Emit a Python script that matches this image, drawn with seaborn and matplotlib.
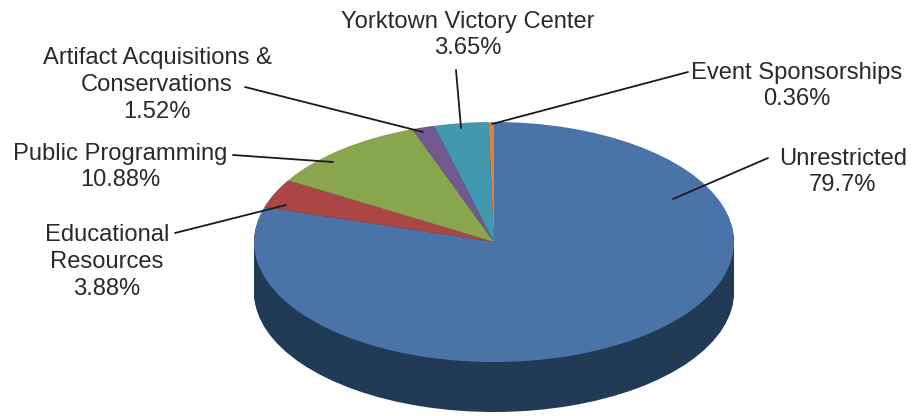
#!/usr/bin/env python3

import matplotlib
matplotlib.use("Agg")
import matplotlib.pyplot as plt
import seaborn as sns

W, H = 924, 416
CX, CY, RX, RY = 494, 242, 240, 120  # pie centre and radii in pixels
DEPTH = 50

categories = ["Unrestricted", "Educational\nResources", "Public Programming",
              "Artifact Acquisitions &\nConservations", "Yorktown Victory Center",
              "Event Sponsorships"]
values = [79.7, 3.88, 10.88, 1.52, 3.65, 0.36]
value_labels = ["79.7%", "3.88%", "10.88%", "1.52%", "3.65%", "0.36%"]
colors = ["#4A74A8", "#AA4744", "#89A54E", "#71588F", "#4198AF", "#DB843D"]
side_color = "#213A56"

# label centres and leader ends, pixels from the top left
label_pos = [(843, 172), (107, 262), (120, 167), (157, 85), (468, 35), (797, 86)]
leader_from = [(768, 158), (175, 233), (233, 155), (245, 87), (456, 70), (688, 72)]
leader_to = [(673, 199), (286, 205), (333, 162), (423, 132), (461, 128), (492, 124)]


def px(p):
    return (p[0] - CX) / RX, (CY - p[1]) / RY


sns.set_theme(style="white")
plt.rcParams["font.family"] = ["Liberation Sans", "DejaVu Sans"]

fig, ax = plt.subplots(figsize=(W / 100, H / 100), dpi=100)
fig.subplots_adjust(left=0, right=1, bottom=0, top=1)

# side wall: the same pie stacked downwards in the dark colour
for off in range(DEPTH, 0, -1):
    ax.pie(values, colors=[side_color] * len(values), startangle=90, counterclock=False,
           center=(0, -off / RY), radius=1, wedgeprops={"linewidth": 0})
ax.pie(values, colors=colors, startangle=90, counterclock=False, radius=1,
       wedgeprops={"linewidth": 0})

ax.set_aspect("auto")
ax.set_xlim(-CX / RX, (W - CX) / RX)
ax.set_ylim((CY - H) / RY, CY / RY)
ax.axis("off")

for cat, val, pos, a, b in zip(categories, value_labels, label_pos, leader_from, leader_to):
    ax.text(*px(pos), cat + "\n" + val, ha="center", va="center", fontsize=17.1,
            color="#2A2A2A", linespacing=1.28)
    ax.annotate("", xy=px(b), xytext=px(a),
                arrowprops={"arrowstyle": "-", "color": "#1A1A1A", "lw": 1.3,
                            "shrinkA": 0, "shrinkB": 0})

fig.savefig("out.png", dpi=100)
plt.close(fig)
